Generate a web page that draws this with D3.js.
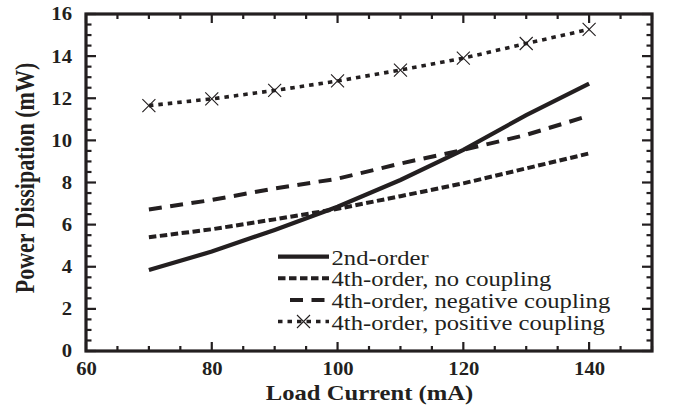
<!DOCTYPE html>
<html><head><meta charset="utf-8">
<script src="https://cdn.jsdelivr.net/npm/d3@7"></script>
<style>
html,body{margin:0;padding:0;background:#fff;}
svg{display:block;}
</style></head>
<body>
<svg id="chart" width="674" height="410"></svg>
<script>
// ---- data ----
const loadCurrent = [70, 80, 90, 100, 110, 120, 130, 140];
const secondOrder = [3.85, 4.72, 5.75, 6.85, 8.12, 9.55, 11.2, 12.7];
const fourthNoCoupling = [5.4, 5.78, 6.25, 6.75, 7.35, 7.96, 8.67, 9.38];
const fourthNegCoupling = [6.72, 7.17, 7.72, 8.18, 8.9, 9.55, 10.26, 11.17];
const fourthPosCoupling = [11.65, 11.97, 12.37, 12.82, 13.34, 13.9, 14.6, 15.27];
const seriesNames = ["2nd-order", "4th-order, no coupling", "4th-order, negative coupling", "4th-order, positive coupling"];
const xTicks = [60, 80, 100, 120, 140];
const yTicks = [0, 2, 4, 6, 8, 10, 12, 14, 16];
const xTitle = "Load Current (mA)";
const yTitle = "Power Dissipation (mW)";

// ---- layout / style ----
const W = 674, H = 410;
const m = {left: 86, right: 22, top: 14, bottom: 59};
const iw = W - m.left - m.right, ih = H - m.top - m.bottom;
const ink = "#231f20";
const FONT = "Liberation Serif";
const SX = 1.12; // horizontal stretch of the text in the original figure
const styles = [
  {width: 4.2, dash: null, marker: false},
  {width: 4.0, dash: "7.5,3.5", marker: false},
  {width: 4.0, dash: "13,8.5", marker: false},
  {width: 3.6, dash: "4.5,5", marker: true}
];
const seriesValues = [secondOrder, fourthNoCoupling, fourthNegCoupling, fourthPosCoupling];

const svg = d3.select("#chart");
const g = svg.append("g").attr("transform", `translate(${m.left},${m.top})`);
const x = d3.scaleLinear().domain([60, 150]).range([0, iw]);
const y = d3.scaleLinear().domain([0, 16]).range([ih, 0]);

// minor + major ticks (inward) on all four sides
const xMinor = d3.range(60, 150.01, 5);
const yMinor = d3.range(0, 16.01, 0.5);
function isMajorX(v){ return Math.abs(v % 20) < 1e-6; }
function isMajorY(v){ return Math.abs(v % 2) < 1e-6; }
const tickG = g.append("g").attr("stroke", ink).attr("stroke-width", 2.2);
xMinor.forEach(v => {
  const L = isMajorX(v) ? 9 : 5;
  tickG.append("line").attr("x1", x(v)).attr("x2", x(v)).attr("y1", ih).attr("y2", ih - L);
  tickG.append("line").attr("x1", x(v)).attr("x2", x(v)).attr("y1", 0).attr("y2", L);
});
yMinor.forEach(v => {
  const L = isMajorY(v) ? 10 : 5.5;
  tickG.append("line").attr("x1", 0).attr("x2", L).attr("y1", y(v)).attr("y2", y(v));
  tickG.append("line").attr("x1", iw).attr("x2", iw - L).attr("y1", y(v)).attr("y2", y(v));
});

// tick labels via d3 axes (no lines)
const xAxis = g.append("g").attr("transform", `translate(0,${ih})`)
  .call(d3.axisBottom(x).tickValues(xTicks).tickSize(0).tickPadding(11));
xAxis.select(".domain").remove();
xAxis.attr("font-family", FONT).attr("font-size", 18.5);
xAxis.selectAll("text").attr("font-size", 18.5).attr("font-weight", "bold")
  .attr("font-family", FONT).attr("fill", ink).attr("transform", `scale(${SX},1)`);
const yAxis = g.append("g")
  .call(d3.axisLeft(y).tickValues(yTicks).tickSize(0).tickPadding(14));
yAxis.select(".domain").remove();
yAxis.attr("font-family", FONT).attr("font-size", 18.5);
yAxis.selectAll("text").attr("font-size", 18.5).attr("font-weight", "bold")
  .attr("font-family", FONT).attr("fill", ink)
  .attr("x", -14 / SX).attr("transform", `scale(${SX},1)`);

// frame
g.append("rect").attr("x", 0).attr("y", 0).attr("width", iw).attr("height", ih)
  .attr("fill", "none").attr("stroke", ink).attr("stroke-width", 3.2);

// series
const line = d3.line().x(d => x(d[0])).y(d => y(d[1]));
seriesValues.forEach((vals, i) => {
  const pts = loadCurrent.map((c, k) => [c, vals[k]]);
  const st = styles[i];
  g.append("path").datum(pts).attr("d", line).attr("fill", "none")
    .attr("stroke", ink).attr("stroke-width", st.width)
    .attr("stroke-dasharray", st.dash);
  if (st.marker) {
    pts.forEach(p => {
      const cx = x(p[0]), cy = y(p[1]), s = 6.5;
      g.append("path").attr("d", `M${cx-s},${cy-s}L${cx+s},${cy+s}M${cx-s},${cy+s}L${cx+s},${cy-s}`)
        .attr("stroke", ink).attr("stroke-width", 1.1).attr("fill", "none");
    });
  }
});

// legend
const legX1 = 278, legX2 = 329, legY0 = 256.7, legDy = 21.6;
const leg = svg.append("g");
seriesNames.forEach((name, i) => {
  const st = styles[i];
  const ly = legY0 + i * legDy;
  const x1 = i === 2 ? 290 : legX1;
  leg.append("line").attr("x1", x1).attr("x2", legX2).attr("y1", ly).attr("y2", ly)
    .attr("stroke", ink).attr("stroke-width", st.width).attr("stroke-dasharray", st.dash);
  if (st.marker) {
    const cx = 303.5, s = 6.5;
    leg.append("path").attr("d", `M${cx-s},${ly-s}L${cx+s},${ly+s}M${cx-s},${ly+s}L${cx+s},${ly-s}`)
      .attr("stroke", ink).attr("stroke-width", 1.1);
  }
  leg.append("text").attr("transform", `translate(331.5,${ly + 8}) scale(${SX},1)`)
    .attr("font-family", FONT).attr("font-size", 22).attr("fill", ink).text(name);
});

// axis titles
svg.append("text").attr("transform", `translate(369.5,400) scale(${SX},1)`).attr("font-family", FONT)
  .attr("text-anchor", "middle").attr("font-size", 22).attr("font-weight", "bold").attr("fill", ink).text(xTitle);
svg.append("text").attr("transform", `translate(34,178) scale(1.2,1) rotate(-90)`).attr("font-family", FONT)
  .attr("text-anchor", "middle").attr("font-size", 22).attr("font-weight", "bold").attr("fill", ink).text(yTitle);
</script>
</body></html>
